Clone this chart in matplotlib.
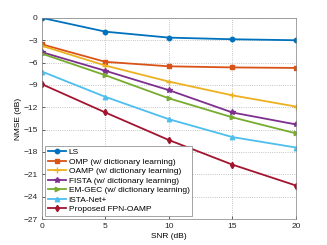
import numpy as np
import matplotlib as mpl
import matplotlib.pyplot as plt

mpl.rcParams['font.family'] = 'Liberation Sans'

# Data
snr = [0, 5, 10, 15, 20]
ls = [0.0, -1.85, -2.65, -2.87, -3.0]
omp = [-3.55, -5.9, -6.5, -6.65, -6.72]
oamp = [-3.75, -6.4, -8.55, -10.4, -11.9]
fista = [-4.6, -7.1, -9.7, -12.7, -14.3]
emgec = [-4.8, -7.7, -10.8, -13.35, -15.5]
istanet = [-7.2, -10.6, -13.6, -16.0, -17.4]
proposed = [-8.9, -12.7, -16.4, -19.7, -22.5]

names = ["LS", "OMP (w/ dictionary learning)", "OAMP (w/ dictionary learning)",
         "FISTA (w/ dictionary learning)", "EM-GEC (w/ dictionary learning)",
         "ISTA-Net+", "Proposed FPN-OAMP"]
series = [ls, omp, oamp, fista, emgec, istanet, proposed]
colors = ['#0072BD', '#D95319', '#EDB120', '#7E2F8E', '#77AC30', '#4DBEEE', '#A2142F']
markers = ['o', 's', '+', '*', '>', '^', 'd']

fig = plt.figure(figsize = (3.27, 2.45), dpi = 100)
ax = fig.add_axes([0.128, 0.106, 0.777, 0.821])

for y, name, c, m in zip(series, names, colors, markers):
  ms = 3.8 if m in ('+', '*') else 3.2
  ax.plot(snr, y, color = c, marker = m, lw = 1.3, ms = ms, mew = 1.0, label = name)

ax.set_xlim(0, 20)
ax.set_ylim(-27, 0)
ax.set_xticks([0, 5, 10, 15, 20])
ax.set_yticks(np.arange(-27, 1, 3))
ax.grid(True, ls = ':', lw = 0.6, color = '#b0b0b0')
ax.tick_params(axis = 'both', labelsize = 6, direction = 'in', length = 2,
               width = 0.5, colors = '#262626', pad = 3)
for s in ax.spines.values():
  s.set_color('#808080')
  s.set_linewidth(0.5)

ax.set_xlabel("SNR (dB)", size = 6, labelpad = 2)
ax.set_ylabel("NMSE (dB)", size = 6, labelpad = 1)

leg = ax.legend(loc = 'lower left', prop = {'size' : 6}, fancybox = False,
                framealpha = 1, edgecolor = '#808080', handlelength = 2.2,
                handletextpad = 0.3, labelspacing = 0.2, borderpad = 0.3,
                borderaxespad = 0.4)
leg.get_frame().set_linewidth(0.5)

fig.savefig("out.png", dpi = 100)
